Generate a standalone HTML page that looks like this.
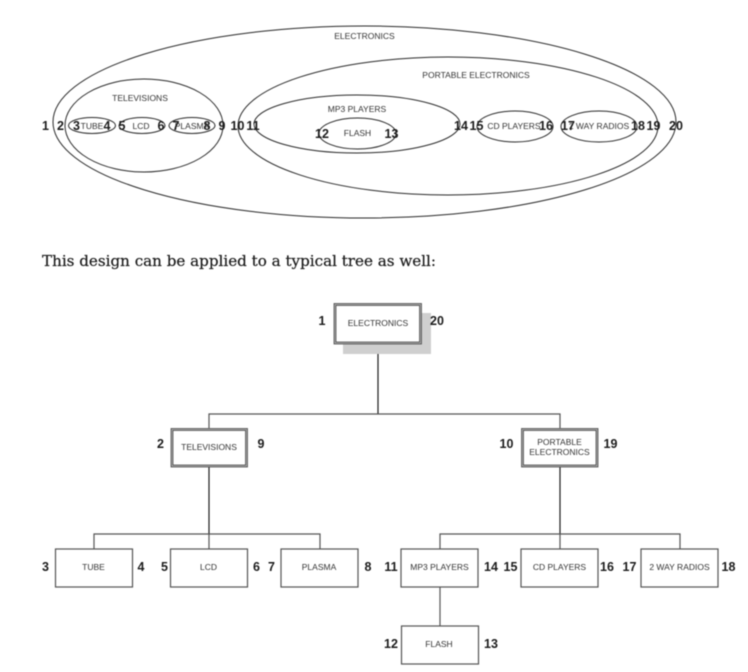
<!DOCTYPE html>
<html>
<head>
<meta charset="utf-8">
<style>
html,body{margin:0;padding:0;background:#fff;width:748px;height:672px;overflow:hidden}
svg{display:block;filter:blur(0.4px)}
.e{fill:none;stroke:#2a2a2a;stroke-width:1}
.l{font-family:"Liberation Sans",sans-serif;font-size:8.5px;fill:#333;text-anchor:middle}
.n{font-family:"Liberation Sans",sans-serif;font-size:12.5px;font-weight:bold;fill:#1c1c1c;text-anchor:middle}
.r{font-size:12.5px}
.b{fill:#fff;stroke:#555;stroke-width:1.2}
.d{fill:#fff;stroke:#555;stroke-width:2.8}
.i{fill:none;stroke:#ddd;stroke-width:.6}
.c{fill:none;stroke:#555;stroke-width:1.2}
.k{fill:none;stroke:#1c1c1c;stroke-width:1.2}
</style>
</head>
<body>
<svg width="748" height="672" viewBox="0 0 748 672" xmlns="http://www.w3.org/2000/svg">
<!-- nested ellipses -->
<ellipse class="e" cx="364.5" cy="122" rx="311.5" ry="96"/>
<ellipse class="e" cx="144" cy="125.5" rx="79" ry="46.5"/>
<ellipse class="e" cx="448" cy="126" rx="210" ry="69"/>
<ellipse class="e" cx="357" cy="124" rx="103" ry="29"/>
<ellipse class="e" cx="357.5" cy="133.5" rx="38.5" ry="15.5"/>
<ellipse class="e" cx="92" cy="125.5" rx="23.5" ry="8"/>
<ellipse class="e" cx="142" cy="125.5" rx="23" ry="8"/>
<ellipse class="e" cx="192" cy="125.5" rx="23" ry="8"/>
<ellipse class="e" cx="515" cy="126.5" rx="38" ry="15.5"/>
<ellipse class="e" cx="599" cy="126.5" rx="38" ry="15.5"/>

<text class="l" x="364.5" y="39">ELECTRONICS</text>
<text class="l" x="476" y="78">PORTABLE ELECTRONICS</text>
<text class="l" x="140" y="101">TELEVISIONS</text>
<text class="l" x="357" y="112">MP3 PLAYERS</text>
<text class="l" x="357.5" y="136">FLASH</text>
<text class="l" x="92" y="129">TUBE</text>
<text class="l" x="141" y="129">LCD</text>
<text class="l" x="192" y="129">PLASMA</text>
<text class="l" x="514" y="129">CD PLAYERS</text>
<text class="l" x="599" y="129">2 WAY RADIOS</text>

<text class="n r" x="45.500" y="130">1</text>
<text class="n r" x="60.500" y="130">2</text>
<text class="n r" x="76.500" y="130">3</text>
<text class="n r" x="107" y="130">4</text>
<text class="n r" x="122" y="130">5</text>
<text class="n r" x="161" y="130">6</text>
<text class="n r" x="176" y="130">7</text>
<text class="n r" x="207" y="130">8</text>
<text class="n r" x="222" y="130">9</text>
<text class="n r" x="237.500" y="130">10</text>
<text class="n r" x="253" y="130">11</text>
<text class="n r" x="322" y="138">12</text>
<text class="n r" x="391.500" y="138">13</text>
<text class="n r" x="461" y="130">14</text>
<text class="n r" x="476.500" y="130">15</text>
<text class="n r" x="546" y="130">16</text>
<text class="n r" x="568" y="130">17</text>
<text class="n r" x="638" y="130">18</text>
<text class="n r" x="653.500" y="130">19</text>
<text class="n r" x="676" y="130">20</text>

<!-- sentence -->
<text x="42" y="266" font-family="'DejaVu Serif','Liberation Serif',serif" font-size="14.5" fill="#1a1a1a" stroke="#1a1a1a" stroke-width="0.2" textLength="394" lengthAdjust="spacingAndGlyphs">This design can be applied to a typical tree as well:</text>

<!-- connectors -->
<path class="k" d="M378 344V414"/>
<path class="c" d="M209 428V414H560V428"/>
<path class="k" d="M209 467V534"/>
<path class="c" d="M94 549V534H320V549M209 534V549"/>
<path class="k" d="M560 467V534"/>
<path class="c" d="M440 549V534H680V549M560 534V549M440 587V626"/>

<!-- root -->
<rect x="343" y="313" width="88" height="41" fill="#cfcfcf"/>
<rect class="d" x="335" y="304.500" width="85.500" height="38.500"/>
<rect class="i" x="335" y="304.500" width="85.500" height="38.500"/>
<text class="l" x="378" y="326">ELECTRONICS</text>
<text class="n" x="322" y="325">1</text>
<text class="n" x="437" y="325">20</text>

<!-- level 2 -->
<rect class="d" x="172" y="429.500" width="74.500" height="36.500"/>
<rect class="i" x="172" y="429.500" width="74.500" height="36.500"/>
<text class="l" x="209" y="450">TELEVISIONS</text>
<text class="n" x="160.500" y="448">2</text>
<text class="n" x="261" y="448">9</text>

<rect class="d" x="522.500" y="429.500" width="74.500" height="36.500"/>
<rect class="i" x="522.500" y="429.500" width="74.500" height="36.500"/>
<text class="l" x="559.500" y="445">PORTABLE</text>
<text class="l" x="559.500" y="455">ELECTRONICS</text>
<text class="n" x="506.500" y="448">10</text>
<text class="n" x="610.500" y="448">19</text>

<!-- level 3 -->
<rect class="b" x="55.500" y="549" width="77" height="38"/>
<text class="l" x="93.500" y="570">TUBE</text>
<text class="n" x="45.500" y="571">3</text>
<text class="n" x="141" y="571">4</text>

<rect class="b" x="170.500" y="549" width="77" height="38"/>
<text class="l" x="208.500" y="570">LCD</text>
<text class="n" x="164.500" y="571">5</text>
<text class="n" x="256.500" y="571">6</text>

<rect class="b" x="281" y="549" width="77" height="38"/>
<text class="l" x="319" y="570">PLASMA</text>
<text class="n" x="271.500" y="571">7</text>
<text class="n" x="368" y="571">8</text>

<rect class="b" x="401" y="549" width="77" height="38"/>
<text class="l" x="439.500" y="570">MP3 PLAYERS</text>
<text class="n" x="391" y="571">11</text>
<text class="n" x="491" y="571">14</text>

<rect class="b" x="521" y="549" width="77" height="38"/>
<text class="l" x="559.500" y="570">CD PLAYERS</text>
<text class="n" x="510.500" y="571">15</text>
<text class="n" x="607" y="571">16</text>

<rect class="b" x="641" y="549" width="77" height="38"/>
<text class="l" x="679.500" y="570">2 WAY RADIOS</text>
<text class="n" x="629.500" y="571">17</text>
<text class="n" x="728.500" y="571">18</text>

<rect class="b" x="401.500" y="626" width="77" height="38"/>
<text class="l" x="439" y="647">FLASH</text>
<text class="n" x="391" y="648">12</text>
<text class="n" x="491" y="648">13</text>
</svg>
</body>
</html>
